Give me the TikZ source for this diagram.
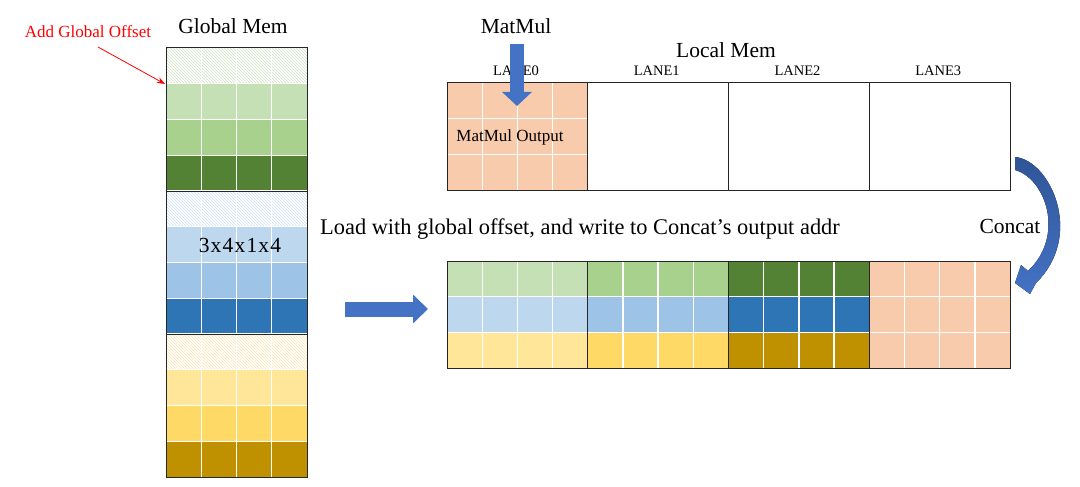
\documentclass[tikz,border=0pt]{standalone}
\usepackage{fontspec}
\setmainfont{Liberation Serif}
\usetikzlibrary{arrows.meta, patterns, positioning}

\definecolor{lgreen}{HTML}{C5E0B4}
\definecolor{mgreen}{HTML}{A9D18E}
\definecolor{dgreen}{HTML}{548235}
\definecolor{lblue}{HTML}{BDD7EE}
\definecolor{mblue}{HTML}{9DC3E6}
\definecolor{dblue}{HTML}{2E75B6}
\definecolor{lyellow}{HTML}{FFE699}
\definecolor{myellow}{HTML}{FFD966}
\definecolor{dyellow}{HTML}{BF9000}
\definecolor{morange}{HTML}{F8CBAD}
\definecolor{hgreen}{HTML}{CFE3C1}
\definecolor{hblue}{HTML}{CFE0F1}
\definecolor{hyellow}{HTML}{FBE6B5}
\definecolor{arrowblue}{HTML}{4472C4}
\definecolor{darkarrow}{HTML}{2F5597}

\tikzset{
  bigtext/.style={font=\fontsize{21.5}{24}\selectfont, inner sep=0pt},
  midtext/.style={font=\fontsize{17}{20}\selectfont, inner sep=0pt},
  lanetext/.style={font=\fontsize{14.5}{16}\selectfont, inner sep=0pt},
  gridline/.style={white, line width=1.3pt},
  memborder/.style={black!85, line width=1pt},
  fatarrow/.style={arrowblue, line width=14pt, -{Triangle[width=29pt, length=14pt]}},
}

\begin{document}
\begin{tikzpicture}[x=1pt, y=-1pt]
\useasboundingbox (0,0) rectangle (1080,487);

% Global memory column
\foreach \c [count=\i from 0] in {white,lgreen,mgreen,dgreen,white,lblue,mblue,dblue,white,lyellow,myellow,dyellow}
  \fill[fill=\c] (166,48+\i*35.75) rectangle ++(141,35.75);
\foreach \c [count=\i from 0] in {hgreen,hblue,hyellow}
  \fill[pattern=north west lines, pattern color=\c] (166,48+\i*143) rectangle ++(141,35.75);
\foreach \k in {1,2,3}
  \draw[gridline] (166+\k*35.25,48) -- ++(0,429);
\foreach \k in {1,...,11}
  \draw[gridline] (166,48+\k*35.75) -- ++(141,0);
\draw[memborder] (166,48) rectangle (307,477);
\draw[memborder] (166,191) -- (307,191);
\draw[memborder] (166,334) -- (307,334);

\node[bigtext] (globlbl) at (233,26) {Global Mem};
\node[bigtext] (shapelbl) at (240,245) {\addfontfeature{LetterSpace=5.5}3x4x1x4};
\node[midtext, text=red] (offlbl) at (88,32) {Add Global Offset};
\coordinate (offtail) at (98,47);
\coordinate (offtip) at (165,84);
\draw[red, line width=0.8pt, -{Stealth[length=8pt, width=6pt]}] (offtail) -- (offtip);

% Local memory
\fill[morange] (447,83) rectangle ++(140.75,107);
\foreach \k in {1,2,3}
  \draw[gridline] (447+\k*35.19,83) -- ++(0,107);
\foreach \k in {1,2}
  \draw[gridline] (447,83+\k*35.67) -- ++(140.75,0);
\draw[memborder] (447,83) rectangle (1010,190);
\foreach \k in {1,2,3}
  \draw[memborder] (447+\k*140.75,83) -- ++(0,107);

\node[bigtext] (locallbl) at (726,50) {Local Mem};
\foreach \k in {0,...,3}
  \node[lanetext] (lane\k) at (516+\k*140.75,71) {LANE\k};
\node[midtext] (outlbl) at (510,137) {MatMul Output};

\node[bigtext] (matmullbl) at (516,26) {MatMul};
\coordinate (mmtail) at (517,44);
\coordinate (mmtip) at (517,106);
\draw[fatarrow] (mmtail) -- (mmtip);

% Concat output
\foreach \a/\b/\c [count=\g from 0] in {lgreen/lblue/lyellow, mgreen/mblue/myellow, dgreen/dblue/dyellow, morange/morange/morange} {
  \fill[fill=\a] (447+\g*140.75,261) rectangle ++(140.75,35.67);
  \fill[fill=\b] (447+\g*140.75,296.67) rectangle ++(140.75,35.67);
  \fill[fill=\c] (447+\g*140.75,332.33) rectangle ++(140.75,35.67);
}
\foreach \k in {1,...,15}
  \draw[gridline] (447+\k*35.19,261) -- ++(0,107);
\foreach \k in {1,2}
  \draw[gridline] (447,261+\k*35.67) -- ++(563,0);
\draw[memborder] (447,261) rectangle (1010,368);
\foreach \k in {1,2,3}
  \draw[memborder] (447+\k*140.75,261) -- ++(0,107);

\node[bigtext, font=\fontsize{22.4}{25}\selectfont] (loadlbl) at (580,229) {Load with global offset, and write to Concat’s output addr};
\coordinate (ldtail) at (345,309);
\coordinate (ldtip) at (428,309);
\draw[fatarrow, line width=15pt, -{Triangle[width=28pt, length=15pt]}] (ldtail) -- (ldtip);

% Concat arrow
\node[bigtext] (concatlbl) at (1010,226) {Concat};
\fill[top color=darkarrow, bottom color=arrowblue]
  (1015,157) .. controls (1050,160) and (1085,235) .. (1036,283)
  -- (1030,294) -- (1015,283) -- (1021,265) -- (1028,271)
  .. controls (1066,235) and (1045,178) .. (1015,170) -- cycle;
\end{tikzpicture}
\end{document}
